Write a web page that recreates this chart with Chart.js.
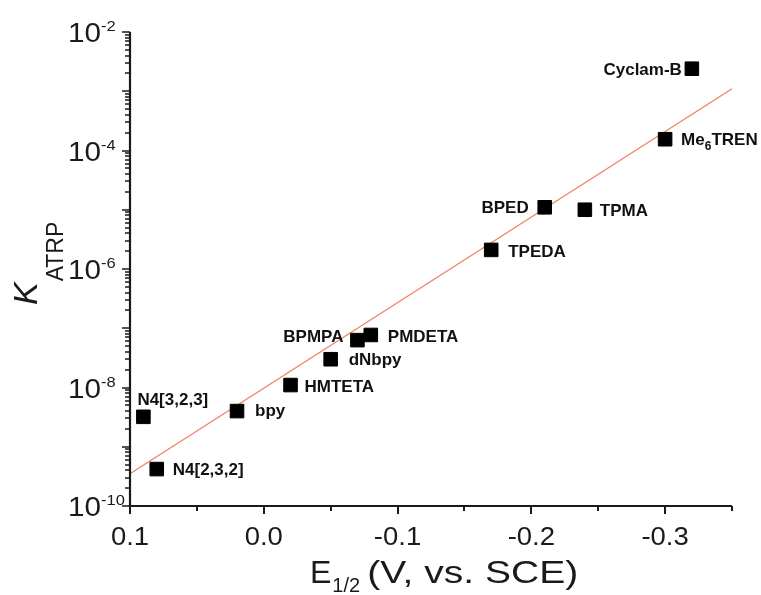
<!DOCTYPE html>
<html>
<head>
<meta charset="utf-8">
<script src="https://cdn.jsdelivr.net/npm/chart.js@4.4.1/dist/chart.umd.min.js"></script>
<style>
  html, body { margin: 0; padding: 0; background: #fff; }
  #wrap { width: 761px; height: 595px; position: relative; }
</style>
</head>
<body>
<div id="wrap"><canvas id="katrp"></canvas></div>
<script>
// ligands and their values
const ligands = ['N4[3,2,3]', 'N4[2,3,2]', 'bpy', 'HMTETA', 'dNbpy', 'BPMPA', 'PMDETA', 'TPEDA', 'BPED', 'TPMA', 'Me6TREN', 'Cyclam-B'];
const e12 = [0.09, 0.08, 0.02, -0.02, -0.05, -0.07, -0.08, -0.17, -0.21, -0.24, -0.30, -0.32];
const kAtrp = [3.2e-9, 4.2e-10, 4.0e-9, 1.1e-8, 3.0e-8, 6.3e-8, 7.7e-8, 2.1e-6, 1.1e-5, 1.0e-5, 1.55e-4, 2.4e-3];

// linear fit line (log K vs E1/2)
const fitE = [0.1, -0.35];
const fitK = [3.5e-10, 1.1e-3];

// axis ticks
const xTicks = [0.1, 0.0, -0.1, -0.2, -0.3];
const xTickLabels = ['0.1', '0.0', '-0.1', '-0.2', '-0.3'];
const xMinorTicks = [0.05, -0.05, -0.15, -0.25, -0.35];
const yTickExp = [-10, -8, -6, -4, -2];

// where each name sits next to its square: [align, dx, dy]
const labelPos = {
    'N4[3,2,3]': ['left', -6, -12],
    'N4[2,3,2]': ['left', 16, 6],
    'bpy': ['left', 18, 5],
    'HMTETA': ['left', 14, 7],
    'dNbpy': ['left', 18, 6],
    'BPMPA': ['right', -14, 2],
    'PMDETA': ['left', 17, 7],
    'TPEDA': ['left', 17, 7],
    'BPED': ['right', -16, 6],
    'TPMA': ['left', 15, 6],
    'Me6TREN': ['left', 16, 6],
    'Cyclam-B': ['right', -10, 6]
};

const FONT = '"Liberation Sans", Arial, Helvetica, sans-serif';

function drawStretched(ctx, text, x, y, sx, align) {
    ctx.save();
    ctx.translate(x, y);
    ctx.scale(sx, 1);
    ctx.textAlign = align;
    ctx.fillText(text, 0, 0);
    ctx.restore();
}

const axesPlugin = {
    id: 'axesDraw',
    afterDraw(chart) {
        const ctx = chart.ctx;
        const xs = chart.scales.x;
        const ys = chart.scales.y;
        const area = chart.chartArea;
        ctx.save();
        ctx.strokeStyle = '#1a1a1a';
        ctx.fillStyle = '#1a1a1a';

        // axis lines
        ctx.lineWidth = 2.2;
        ctx.beginPath();
        ctx.moveTo(area.left, area.top);
        ctx.lineTo(area.left, area.bottom);
        ctx.lineTo(area.right, area.bottom);
        ctx.stroke();

        // x ticks
        ctx.lineWidth = 2;
        ctx.beginPath();
        xTicks.forEach(v => {
            const px = Math.round(xs.getPixelForValue(v));
            ctx.moveTo(px, area.bottom);
            ctx.lineTo(px, area.bottom + 8);
        });
        xMinorTicks.forEach(v => {
            const px = Math.round(xs.getPixelForValue(v));
            ctx.moveTo(px, area.bottom);
            ctx.lineTo(px, area.bottom + 5);
        });
        ctx.stroke();

        // y ticks, every decade plus 2..9 minors
        ctx.lineWidth = 1.5;
        ctx.beginPath();
        for (let e = -10; e <= -2; e++) {
            const py = Math.round(ys.getPixelForValue(Math.pow(10, e)));
            ctx.moveTo(area.left, py);
            ctx.lineTo(area.left - 8, py);
            if (e < -2) {
                for (let m = 2; m <= 9; m++) {
                    const pm = Math.round(ys.getPixelForValue(m * Math.pow(10, e)));
                    ctx.moveTo(area.left, pm);
                    ctx.lineTo(area.left - 5, pm);
                }
            }
        }
        ctx.stroke();

        // x tick labels
        ctx.font = '25px ' + FONT;
        ctx.textBaseline = 'alphabetic';
        xTicks.forEach((v, i) => {
            drawStretched(ctx, xTickLabels[i], xs.getPixelForValue(v), area.bottom + 39, 1.1, 'center');
        });

        // y tick labels 10^n
        yTickExp.forEach(e => {
            const py = ys.getPixelForValue(Math.pow(10, e));
            ctx.font = '27px ' + FONT;
            drawStretched(ctx, '10', 101, py + 10, 1.1, 'right');
            ctx.font = '15px ' + FONT;
            drawStretched(ctx, String(e), 101, py - 1, 1.1, 'left');
        });

        // x title  E1/2 (V, vs. SCE)
        ctx.font = '32px ' + FONT;
        ctx.textAlign = 'left';
        let tx = 310;
        const ty = 583;
        ctx.fillText('E', tx, ty);
        tx += ctx.measureText('E').width + 1;
        ctx.font = '20px ' + FONT;
        ctx.fillText('1/2', tx, ty + 9);
        tx += ctx.measureText('1/2').width + 7;
        ctx.font = '32px ' + FONT;
        drawStretched(ctx, '(V, vs. SCE)', tx, ty, 1.22, 'left');

        // y title  K_ATRP (rotated)
        ctx.save();
        ctx.translate(37, 305);
        ctx.rotate(-Math.PI / 2);
        ctx.textAlign = 'left';
        ctx.font = 'italic 34px ' + FONT;
        ctx.fillText('K', 0, 0);
        const kw = ctx.measureText('K').width;
        ctx.font = '23px ' + FONT;
        ctx.fillText('ATRP', kw + 1, 26);
        ctx.restore();

        // point names
        ctx.fillStyle = '#111';
        ligands.forEach((name, i) => {
            const p = labelPos[name];
            const px = xs.getPixelForValue(e12[i]) + p[1];
            const py = ys.getPixelForValue(kAtrp[i]) + p[2];
            ctx.textAlign = 'left';
            if (name === 'Me6TREN') {
                ctx.font = 'bold 17px ' + FONT;
                let cx = px;
                ctx.fillText('Me', cx, py);
                cx += ctx.measureText('Me').width;
                ctx.font = 'bold 12px ' + FONT;
                ctx.fillText('6', cx, py + 5);
                cx += ctx.measureText('6').width;
                ctx.font = 'bold 17px ' + FONT;
                ctx.fillText('TREN', cx, py);
            } else {
                ctx.font = 'bold 17px ' + FONT;
                ctx.textAlign = p[0];
                ctx.fillText(name, px, py);
            }
        });
        ctx.restore();
    }
};

const ctx = document.getElementById('katrp').getContext('2d');
const chart = new Chart(ctx, {
    type: 'scatter',
    data: {
        datasets: [{
            label: 'K_ATRP',
            data: e12.map((e, i) => ({ x: e, y: kAtrp[i] })),
            pointStyle: 'rect',
            pointRadius: 9.6,
            backgroundColor: '#000',
            borderColor: '#000',
            borderWidth: 1,
            order: 1
        }, {
            type: 'line',
            label: 'fit',
            data: fitE.map((e, i) => ({ x: e, y: fitK[i] })),
            borderColor: '#f0826a',
            borderWidth: 1.3,
            pointRadius: 0,
            fill: false,
            order: 2
        }]
    },
    options: {
        responsive: true,
        maintainAspectRatio: false,
        animation: false,
        layout: {
            padding: { left: 130, top: 32, right: 29, bottom: 89 }
        },
        plugins: {
            legend: { display: false },
            tooltip: { enabled: false }
        },
        scales: {
            x: {
                type: 'linear',
                min: -0.35,
                max: 0.1,
                reverse: true,
                display: false
            },
            y: {
                type: 'logarithmic',
                min: 1e-10,
                max: 1e-2,
                display: false
            }
        }
    },
    plugins: [axesPlugin]
});
</script>
</body>
</html>
